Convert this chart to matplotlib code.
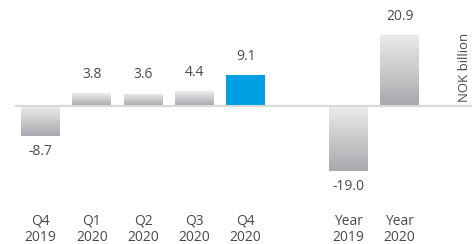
import matplotlib
matplotlib.use("Agg")
import matplotlib.pyplot as plt
import numpy as np
from matplotlib.colors import LinearSegmentedColormap

categories = ["Q4\n2019", "Q1\n2020", "Q2\n2020", "Q3\n2020", "Q4\n2020", "Year\n2019", "Year\n2020"]
positions = [0, 1, 2, 3, 4, 6, 7]
values = [-8.7, 3.8, 3.6, 4.4, 9.1, -19.0, 20.9]
labels = ["-8.7", "3.8", "3.6", "4.4", "9.1", "-19.0", "20.9"]
highlight = 4
unit = "NOK billion"

plt.rcParams['font.family'] = ['Open Sans', 'DejaVu Sans']
W, H = 472, 244
fig = plt.figure(figsize=(W / 100, H / 100), dpi=100)
ax = fig.add_axes([0, 0, 1, 1])
ax.set_xlim(-0.79, 8.41)
ax.set_ylim(-40.5, 31.1)
ax.axis('off')

cmap = LinearSegmentedColormap.from_list('g', ['#a6a8ab', '#ececec'])
grad = np.linspace(0, 1, 256).reshape(-1, 1)

bars = ax.bar(positions, values, width=0.76, color='none', edgecolor='none')
for i, (b, v) in enumerate(zip(bars, values)):
    x0, y0 = b.get_x(), b.get_y()
    w, h = b.get_width(), b.get_height()
    if i == highlight:
        b.set_facecolor('#009fe3')
    else:
        ylo, yhi = min(y0, y0 + h), max(y0, y0 + h)
        im = ax.imshow(grad, cmap=cmap, aspect='auto', origin='lower',
                       extent=[x0, x0 + w, ylo, yhi], zorder=1)
        im.set_clip_path(b)

ax.plot([-0.5, 8.41], [0, 0], color='#d9d9d9', lw=1.5, zorder=3, solid_capstyle='butt')

tc = '#4a4a4a'
fs = 10
for p, v, lab in zip(positions, values, labels):
    off = 13.5 if v > 0 else -11.5
    ax.annotate(lab, (p, v), xytext=(0, off), textcoords='offset points',
                ha='center', va='center', fontsize=fs, color=tc)

for p, c in zip(positions, categories):
    l1, l2 = c.split("\n")
    ax.text(p, -33.8, l1, ha='center', va='center', fontsize=fs, color=tc)
    ax.text(p, -38.6, l2, ha='center', va='center', fontsize=fs, color=tc)

fig.text(464 / W, 1 - 67 / H, unit, rotation=90, ha='center', va='center',
         fontsize=9.5, color=tc)

fig.savefig('out.png', dpi=100)
